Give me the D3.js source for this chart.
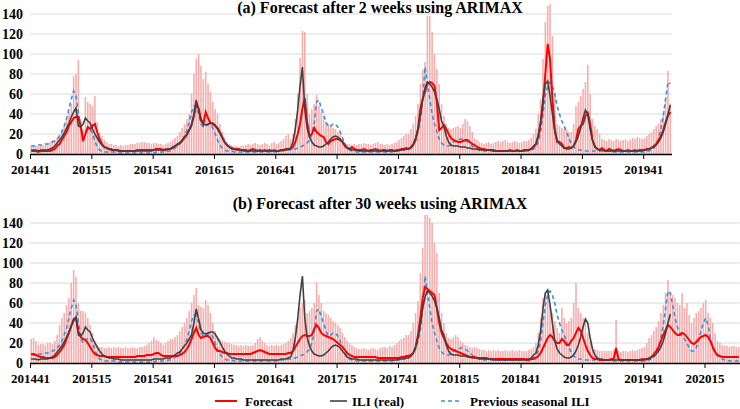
<!DOCTYPE html>
<html><head><meta charset="utf-8">
<script src="https://cdn.jsdelivr.net/npm/d3@7"></script>
<style>
body{margin:0;background:#fff}
svg{display:block}
text{font-family:"Liberation Serif","Times New Roman",serif;font-weight:bold;fill:#000}
</style>
</head><body><svg id="c" width="740" height="409"></svg>
<script>
// ---------- data ----------
const yTicks = [0,20,40,60,80,100,120,140];
const tickLabelsA = ["201441","201515","201541","201615","201641","201715","201741","201815","201841","201915","201941"];
const tickLabelsB = ["201441","201515","201541","201615","201641","201715","201741","201815","201841","201915","201941","202015"];
const titleA = "(a) Forecast after 2 weeks using ARIMAX";
const titleB = "(b) Forecast after 30 weeks using ARIMAX";
const legendNames = ["Forecast","ILI (real)","Previous seasonal ILI"];

// ILI (real), weekly from 201441 to 201952
const ili = [
4,4,4,3,4,4,4,4,5,6, 8,11,14,17,21,26,31,37,42,46,
28,27,30,36,33,31,25,20,16,12, 9,7,6,5,5,4,4,4,3,3,
3,3,3,3,3,3,3,3,3,3, 3,3,4,4,4,4,4,5,5,5,
7,8,10,11,14,17,20,24,28,40, 54,44,33,30,29,30,31,31,29,25,
21,16,12,9,7,5,5,4,4,4, 3,3,3,3,3,3,3,3,3,3,
3,3,3,3,3,3,4,4,4,5, 6,12,25,44,68,87,45,26,17,12,
9,8,7,7,8,10,12,15,17,18, 17,15,12,9,6,5,4,4,4,3,
3,3,3,3,3,3,3,3,3,3, 3,3,3,3,3,3,4,4,4,5,
5,7,10,16,25,38,55,66,72,70, 67,62,55,45,33,28,18,12,9,8,
8,8,7,7,7,6,6,5,5,5, 4,4,4,4,4,4,3,3,3,3,
3,3,3,3,3,3,3,3,3,3, 4,4,5,8,10,18,32,55,70,73,
58,40,22,14,10,8,6,5,5,6, 8,12,18,26,36,44,40,25,14,8,
5,4,4,3,3,3,3,3,3,3, 3,3,3,3,3,3,3,3,3,3,
4,4,5,6,7,9,12,16,22,30, 40,49
];

// Forecast after 2 weeks
const forecastA = [
3,3,3,2,3,3,3,3,3,4, 5,8,10,14,18,22,28,32,36,37,
37,28,13,20,27,25,28,30,22,15, 10,7,6,5,4,4,4,3,3,3,
3,3,3,3,3,4,4,4,4,4, 4,4,4,5,5,5,4,4,5,5,
6,8,9,11,13,16,19,24,30,38, 50,46,35,30,42,36,31,30,28,26,
22,17,12,9,7,6,5,5,5,4, 4,4,3,4,5,4,3,4,3,4,
3,4,3,4,3,3,4,4,5,5, 5,7,12,20,30,45,56,32,18,20,
26,22,20,18,17,12,10,13,14,15, 15,14,12,8,6,5,7,5,4,4,
4,5,4,3,4,4,5,4,3,4, 4,3,4,4,3,4,4,5,5,6,
5,6,9,14,25,45,55,62,70,72, 71,68,52,24,26,29,25,20,16,14,
13,12,12,13,14,14,12,10,9,7, 6,5,5,4,4,4,4,3,3,3,
3,3,3,4,3,3,4,3,3,4, 4,4,5,7,10,18,30,50,80,110,
95,55,25,12,12,10,6,6,7,6, 8,14,25,28,30,38,41,30,14,7,
5,4,6,4,3,5,4,3,4,5, 4,3,3,4,3,3,4,3,4,4,
4,5,5,6,8,10,14,18,24,32, 38,42
];

// Upper bound (bars), 2 weeks
const upperA = [
8,8,8,8,9,9,9,10,12,14, 14,16,20,24,28,35,42,50,78,80,
94,35,25,57,52,50,48,58,32,22, 18,14,12,10,10,9,9,8,9,8,
9,9,10,10,10,11,11,12,12,11, 11,10,11,11,10,10,9,10,11,12,
14,16,18,22,26,30,35,40,60,80, 95,100,88,75,82,70,62,52,45,40,
30,22,16,12,10,9,8,8,7,8, 8,9,10,9,10,11,10,9,10,11,
10,9,11,12,10,11,13,15,18,20, 15,20,35,60,96,123,122,60,40,45,
50,59,48,42,38,32,30,28,26,25, 22,20,16,12,10,10,9,10,9,10,
10,11,10,10,9,10,11,12,10,10, 9,10,9,10,11,12,14,16,18,20,
20,25,30,38,50,70,85,92,138,138, 122,100,85,70,50,38,30,26,25,26,
27,28,26,30,35,33,28,22,16,14, 12,11,10,11,12,10,11,12,13,12,
13,14,12,11,12,13,12,11,12,13, 13,14,16,20,25,40,55,95,132,148,
150,118,60,30,28,26,25,24,22,22, 30,48,52,58,65,72,89,60,35,28,
25,20,15,14,13,15,14,13,15,14, 13,14,15,13,14,16,15,17,16,15,
16,18,20,22,25,28,30,35,40,55, 83,50
];

// Previous seasonal ILI, 201441 to 202029
const prevSeason = [
8,8,8,9,9,9,10,10,11,12, 13,15,18,22,28,35,45,55,63,58,
42,25,20,22,25,25,20,13,7,4, 3,2,2,2,2,2,2,1,1,1,
1,1,1,1,1,1,1,1,1,1, 1,1,1,2,2,2,2,2,3,3,
4,6,8,10,13,18,24,32,42,48, 48,40,30,27,28,29,30,26,20,14,
9,6,4,3,3,3,2,2,2,2, 2,2,2,2,2,2,2,2,2,2,
2,2,2,2,2,3,3,3,3,4, 4,5,5,6,7,8,9,11,14,20,
30,52,54,46,40,32,27,28,30,30, 27,22,16,10,6,4,3,3,2,2,
2,2,2,2,2,2,2,2,2,2, 2,2,2,2,3,3,3,4,4,5,
5,7,10,14,22,32,55,87,70,55, 40,30,22,15,11,9,8,8,9,12,
13,14,15,15,14,12,10,8,6,5, 4,4,3,3,3,3,3,3,3,3,
3,3,3,3,3,3,3,3,3,3, 3,3,4,5,7,12,22,40,58,68,
72,68,60,48,40,33,28,22,16,10, 7,5,4,4,3,3,3,3,3,3,
3,3,3,3,3,3,2,2,2,2, 2,2,2,2,2,2,2,2,2,2,
2,3,3,4,6,9,15,25,38,55, 72,70,58,45,36,30,27,24,20,15,
12,12,15,22,32,40,45,38,25,15, 10,7,5,4,3,3,2,2,2,2,
2
];

// Forecast after 30 weeks
const forecastB = [
9,9,8,7,6,6,5,5,5,5, 6,8,11,14,18,24,30,37,44,45,
32,26,24,23,20,16,12,9,8,7, 7,7,6,6,6,6,6,6,6,6,
6,6,6,6,6,7,7,7,7,8, 8,8,9,10,10,8,7,7,7,7,
7,7,7,8,9,11,14,18,24,30, 35,28,25,26,27,27,25,20,15,12,
12,11,10,10,9,9,9,9,9,9, 9,9,9,9,10,11,12,13,12,11,
10,9,9,9,9,9,9,9,9,10, 10,12,16,20,24,27,28,27,27,28,
34,38,35,30,28,27,26,25,24,22, 20,18,16,13,10,8,7,6,6,6,
6,6,6,6,6,6,6,5,5,5, 5,5,5,5,5,5,5,6,6,7,
7,8,10,16,28,45,65,76,74,72, 70,68,55,40,30,25,20,16,14,13,
12,11,10,9,8,7,6,6,6,5, 5,5,5,5,4,4,4,4,4,4,
4,4,4,4,4,4,4,4,4,4, 3,3,4,4,5,7,10,15,20,25,
28,26,22,20,20,24,22,18,18,22, 25,30,35,32,25,18,12,8,5,4,
4,3,3,3,3,3,4,4,15,4, 3,3,3,3,3,3,3,3,3,4,
3,4,4,6,9,12,16,22,28,33, 38,36,33,30,28,28,30,29,26,23,
20,19,21,24,26,27,28,26,22,16, 11,8,7,6,6,6,6,6,6,6,
6
];

// Upper bound (bars), 30 weeks
const upperB = [
24,25,22,18,19,19,18,20,20,19, 22,28,38,45,50,58,65,80,93,86,
60,52,52,50,45,38,30,22,18,16, 16,15,15,16,15,16,15,16,15,15,
16,15,15,16,15,15,16,16,17,18, 20,22,26,23,22,20,18,20,22,24,
24,26,28,32,36,40,45,52,60,68, 75,58,56,55,63,58,50,40,32,26,
24,22,21,20,20,19,18,18,17,18, 17,18,17,17,18,20,24,26,22,20,
18,17,18,17,18,17,18,19,20,22, 25,30,38,45,55,60,63,50,52,55,
60,81,68,60,52,50,48,45,42,40, 38,35,30,26,22,20,18,16,15,14,
14,15,14,13,14,15,14,13,15,16, 16,15,17,16,18,20,22,24,25,28,
28,32,40,50,62,90,115,148,148,145, 140,120,110,70,50,40,30,25,24,26,
28,26,22,20,18,17,16,15,16,15, 14,13,13,12,13,12,13,12,13,12,
12,13,12,12,13,12,12,13,12,12, 12,13,14,16,20,30,45,65,70,72,
58,50,42,35,30,55,45,40,42,45, 60,80,55,50,45,40,30,22,16,14,
13,12,12,12,12,12,12,13,43,12, 11,12,12,11,12,13,12,13,14,15,
16,20,25,28,32,36,42,50,58,70, 83,70,68,65,60,58,70,55,60,48,
40,45,50,52,55,60,63,50,45,40, 30,22,20,18,17,17,16,17,17,16,
16
];

// ---------- drawing ----------
const svg = d3.select("#c");
const pxPerWeek = 2.3585;
const colors = {bar:"#f8acac", red:"#ff0000", ili:"#404040", prev:"#3b8fd9", grid:"#d9d9d9"};

function panel(cfg){
  const n = cfg.upper.length;
  const x = d3.scaleLinear().domain([0, n]).range([30, 30 + n*pxPerWeek]);
  const y = d3.scaleLinear().domain([0, 140]).range([cfg.y0, cfg.y0 - 140]);
  const g = svg.append("g");

  g.selectAll("line.grid").data(yTicks.filter(d => d > 0)).join("line")
    .attr("x1", x(0)).attr("x2", x(n))
    .attr("y1", d => y(d)).attr("y2", d => y(d))
    .attr("stroke", colors.grid).attr("stroke-width", 1);

  g.selectAll("text.yl").data(yTicks).join("text")
    .attr("x", 23).attr("y", d => y(d)).attr("dy", "0.33em")
    .attr("text-anchor", "end").style("font-size", "14px").text(d => d);

  const bw = pxPerWeek * 0.66;
  g.selectAll("rect.bar").data(cfg.upper).join("rect")
    .attr("x", (d,i) => x(i + 0.5) - bw/2).attr("y", d => y(d))
    .attr("width", bw).attr("height", d => y(0) - y(d))
    .attr("fill", colors.bar);

  const line = d3.line().x((d,i) => x(i + 0.5)).y(d => y(d));
  g.append("path").datum(cfg.prev).attr("d", line).attr("fill","none")
    .attr("stroke", colors.prev).attr("stroke-width", 1.6).attr("stroke-dasharray","4,3");
  g.append("path").datum(cfg.forecast).attr("d", line).attr("fill","none")
    .attr("stroke", colors.red).attr("stroke-width", 2);
  g.append("path").datum(cfg.ili).attr("d", line).attr("fill","none")
    .attr("stroke", colors.ili).attr("stroke-width", 1.6);

  const ticks = d3.range(0, n, 26).slice(0, cfg.tickLabels.length);
  const ax = d3.axisBottom(x).tickValues(ticks)
    .tickFormat((d,i) => cfg.tickLabels[i]).tickSize(5).tickSizeOuter(0).tickPadding(6);
  const ag = g.append("g").attr("transform", `translate(0,${cfg.y0})`).call(ax);
  ag.select(".domain").attr("stroke", "#000").attr("stroke-width", 1.3);
  ag.selectAll(".tick line").attr("stroke", "#000");
  ag.selectAll(".tick text").style("font-size", "13px")
    .style("font-family", '"Liberation Serif","Times New Roman",serif').style("font-weight","bold");

  svg.append("text").attr("x", 380).attr("y", cfg.titleY).attr("text-anchor","middle")
    .style("font-size","16px").text(cfg.title);
}

panel({y0:154, titleY:13, title:titleA, tickLabels:tickLabelsA,
  upper:upperA, forecast:forecastA, ili:ili, prev:prevSeason.slice(0, upperA.length)});
panel({y0:363, titleY:209, title:titleB, tickLabels:tickLabelsB,
  upper:upperB, forecast:forecastB, ili:ili, prev:prevSeason});

// legend
const legend = [
  {name:legendNames[0], color:colors.red, dash:null, w:2, x1:215, x2:237, tx:245},
  {name:legendNames[1], color:colors.ili, dash:null, w:1.6, x1:330, x2:347, tx:352},
  {name:legendNames[2], color:colors.prev, dash:"4,3", w:1.6, x1:441, x2:461, tx:470}
];
const lg = svg.append("g");
lg.selectAll("line").data(legend).join("line")
  .attr("x1", d => d.x1).attr("x2", d => d.x2).attr("y1", 401).attr("y2", 401)
  .attr("stroke", d => d.color).attr("stroke-width", d => d.w)
  .attr("stroke-dasharray", d => d.dash);
lg.selectAll("text").data(legend).join("text")
  .attr("x", d => d.tx).attr("y", 401).attr("dy","0.35em")
  .style("font-size","13px").text(d => d.name);
</script>
</body></html>
